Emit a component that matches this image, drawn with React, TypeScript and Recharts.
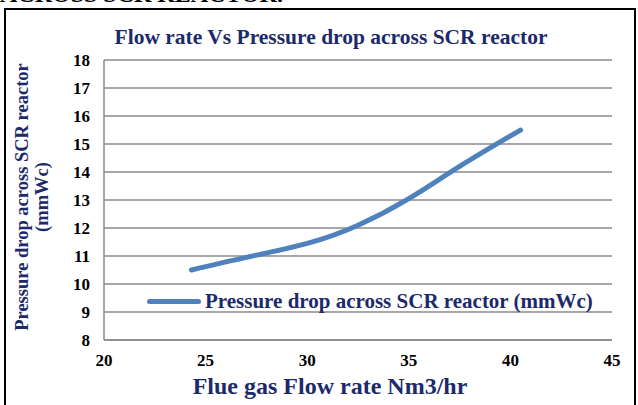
import { LineChart, Line, XAxis, YAxis, CartesianGrid } from "recharts";

const flowRate = [24.3, 27, 30, 32.5, 35, 37.5, 40.5];
const pressureDrop = [10.5, 10.95, 11.45, 12.1, 13.05, 14.2, 15.5];
const xTicks = [20, 25, 30, 35, 40, 45];
const yTicks = [8, 9, 10, 11, 12, 13, 14, 15, 16, 17, 18];

const seriesName = "Pressure drop across SCR reactor (mmWc)";
const navy = "#1c2a6b";
const font = "'Liberation Serif', 'Times New Roman', serif";

const data = flowRate.map((x, i) => ({ x, y: pressureDrop[i] }));

export default function App() {
  return (
    <div style={{ position: "fixed", left: 0, top: 0, width: 638, height: 405, background: "#fff", overflow: "hidden" }}>
      <div style={{ position: "absolute", left: 0, top: -19, fontFamily: font, fontWeight: 700, fontSize: 24, whiteSpace: "nowrap", color: "#000" }}>
        ACROSS SCR REACTOR.
      </div>
      <div style={{ position: "absolute", left: 4, top: 8, width: 632, height: 410, border: "2px solid #000", boxSizing: "border-box" }} />

      <div style={{ position: "absolute", left: 0, top: 25, width: 662, textAlign: "center", fontFamily: font, fontWeight: 700, fontSize: 21.5, color: navy }}>
        Flow rate Vs Pressure drop across SCR reactor
      </div>

      <div style={{ position: "absolute", left: 0, top: 0 }}>
        <LineChart width={638} height={405} data={data} margin={{ top: 60, right: 26, bottom: 35, left: 0 }}>
          <CartesianGrid yAxisId="left" vertical={false} stroke="#8a8a8a" strokeWidth={1.5} />
          <XAxis
            dataKey="x"
            type="number"
            domain={[20, 45]}
            ticks={xTicks}
            interval={0}
            tickLine={false}
            tickSize={0}
            tickMargin={14}
            axisLine={{ stroke: "#8a8a8a", strokeWidth: 1.5 }}
            tick={{ fontFamily: font, fontWeight: 700, fontSize: 17, fill: "#000" }}
          />
          <YAxis
            yAxisId="left"
            width={104}
            domain={[8, 18]}
            ticks={yTicks}
            interval={0}
            tickLine={false}
            tickSize={0}
            tickMargin={14}
            axisLine={{ stroke: "#8a8a8a", strokeWidth: 1.5 }}
            tick={{ fontFamily: font, fontWeight: 700, fontSize: 17, fill: "#000" }}
          />
          <YAxis
            yAxisId="right"
            orientation="right"
            width={0}
            domain={[8, 18]}
            tick={false}
            tickLine={false}
            axisLine={{ stroke: "#8a8a8a", strokeWidth: 1.5 }}
          />
          <Line
            yAxisId="left"
            dataKey="y"
            name={seriesName}
            type="natural"
            stroke="#4f81bd"
            strokeWidth={5}
            strokeLinecap="round"
            dot={false}
            isAnimationActive={false}
          />
        </LineChart>
      </div>

      <div style={{ position: "absolute", left: 147, top: 289, display: "flex", alignItems: "center", fontFamily: font, fontWeight: 700, fontSize: 21, color: navy, whiteSpace: "nowrap", lineHeight: "24px" }}>
        <span style={{ display: "inline-block", width: 54, height: 5, background: "#4f81bd", borderRadius: 3, marginRight: 4 }} />
        <span>{seriesName}</span>
      </div>

      <div style={{ position: "absolute", left: 0, top: 373, width: 660, textAlign: "center", fontFamily: font, fontWeight: 700, fontSize: 24, color: navy }}>
        Flue gas Flow rate Nm3/hr
      </div>

      <svg style={{ position: "absolute", left: 0, top: 0 }} width={80} height={405}>
        <text
          transform="translate(28,197) rotate(-90)"
          textAnchor="middle"
          fontFamily={font}
          fontWeight={700}
          fontSize={18.5}
          fill={navy}
        >
          Pressure drop across SCR reactor
        </text>
        <text
          transform="translate(48,197) rotate(-90)"
          textAnchor="middle"
          fontFamily={font}
          fontWeight={700}
          fontSize={18.5}
          fill={navy}
        >
          (mmWc)
        </text>
      </svg>
    </div>
  );
}
